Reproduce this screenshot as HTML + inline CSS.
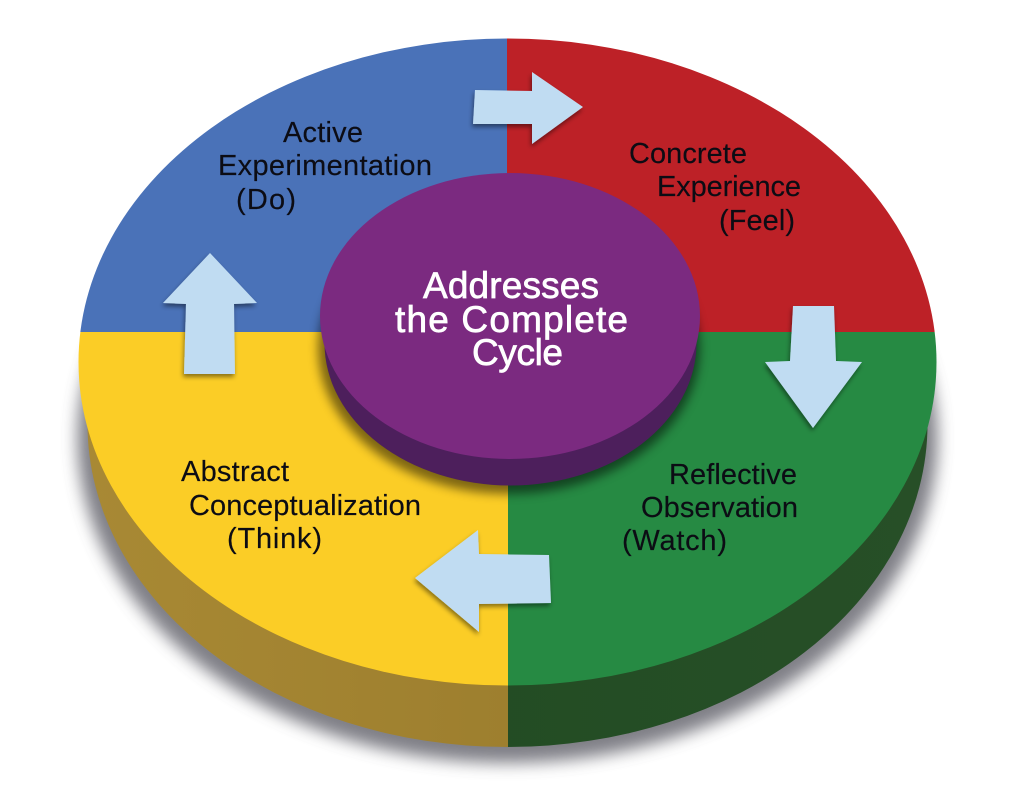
<!DOCTYPE html>
<html>
<head>
<meta charset="utf-8">
<style>
html,body{margin:0;padding:0;background:#fff;width:1015px;height:793px;overflow:hidden}
svg{display:block}
text{font-family:"Liberation Sans",sans-serif;font-size:29px;fill:#0c0c14;stroke:#0c0c14;stroke-width:.15}
.w{fill:#fff;stroke:#fff;stroke-width:.7;font-size:37px}
</style>
</head>
<body>
<svg width="1015" height="793" viewBox="0 0 1015 793" xmlns="http://www.w3.org/2000/svg">
<defs>
<filter id="b" x="-20%" y="-20%" width="140%" height="140%"><feGaussianBlur stdDeviation="8"/></filter>
<filter id="c" x="-20%" y="-20%" width="140%" height="140%"><feGaussianBlur stdDeviation="5"/></filter>
<filter id="a" x="-20%" y="-20%" width="140%" height="140%"><feDropShadow dx="-1" dy="3" stdDeviation="2.5" flood-color="#000" flood-opacity=".45"/></filter>
<linearGradient id="g1" x1="0" x2="1" y1="0" y2="0"><stop offset="0" stop-color="#a88934"/><stop offset="1" stop-color="#937529"/></linearGradient>
<linearGradient id="g2" x1="0" x2="1" y1="0" y2="0"><stop offset="0" stop-color="#1f4a21"/><stop offset="1" stop-color="#274f27"/></linearGradient>
<clipPath id="lh"><rect x="0" y="0" width="508" height="793"/></clipPath>
<clipPath id="rh"><rect x="508" y="0" width="507" height="793"/></clipPath>
<clipPath id="top"><ellipse cx="507.5" cy="362" rx="429" ry="323.5"/></clipPath>
</defs>
<!-- ground shadow -->
<ellipse cx="507.5" cy="438" rx="430" ry="325" fill="#55555f" opacity=".75" filter="url(#b)"/>
<!-- side wall -->
<ellipse cx="507.5" cy="424" rx="420" ry="323" fill="url(#g1)" clip-path="url(#lh)"/>
<ellipse cx="507.5" cy="424" rx="420" ry="323" fill="url(#g2)" clip-path="url(#rh)"/>
<!-- top quadrants -->
<g clip-path="url(#top)">
<rect x="60" y="30" width="447.5" height="302" fill="#4a72b8"/>
<rect x="507" y="30" width="450" height="302" fill="#bd2127"/>
<rect x="508" y="332" width="450" height="360" fill="#268a43"/>
<rect x="60" y="332" width="448" height="360" fill="#fbcd26"/>
<!-- center shadow -->
<ellipse cx="509" cy="348" rx="191" ry="146" fill="#000" opacity=".5" filter="url(#c)"/>
</g>
<!-- center -->
<ellipse cx="510.5" cy="343" rx="186" ry="142.5" fill="#4d1f5c"/>
<ellipse cx="510" cy="316" rx="190" ry="143" fill="#7b2a80"/>
<!-- arrows -->
<g fill="#c0dcf2" filter="url(#a)">
<polygon points="475,90 532,91 532,72 583,107 532,144 532,124 473,124"/>
<polygon points="793,306 834,306 836,361 862,362 813,428 765,362 790,361"/>
<polygon points="549,555 551,603 479,604 479,632 415,578 478,530 479,554"/>
<polygon points="184,374 235,374 234,304 257,303 210,253 163,303 186,304"/>
</g>
<!-- labels -->
<text x="283" y="142" textLength="80">Active</text>
<text x="218" y="175" textLength="214">Experimentation</text>
<text x="236" y="209" textLength="60">(Do)</text>
<text x="629" y="163" textLength="118">Concrete</text>
<text x="657" y="196" textLength="144">Experience</text>
<text x="719" y="230" textLength="76">(Feel)</text>
<text x="669" y="484" textLength="128">Reflective</text>
<text x="641" y="517" textLength="157">Observation</text>
<text x="622" y="550" textLength="105">(Watch)</text>
<text x="181" y="481" textLength="108">Abstract</text>
<text x="189" y="515" textLength="232">Conceptualization</text>
<text x="227" y="548" textLength="95">(Think)</text>
<text class="w" x="423" y="298" textLength="176">Addresses</text>
<text class="w" x="395" y="332" textLength="233">the Complete</text>
<text class="w" x="472" y="365" textLength="91">Cycle</text>
</svg>
</body>
</html>
